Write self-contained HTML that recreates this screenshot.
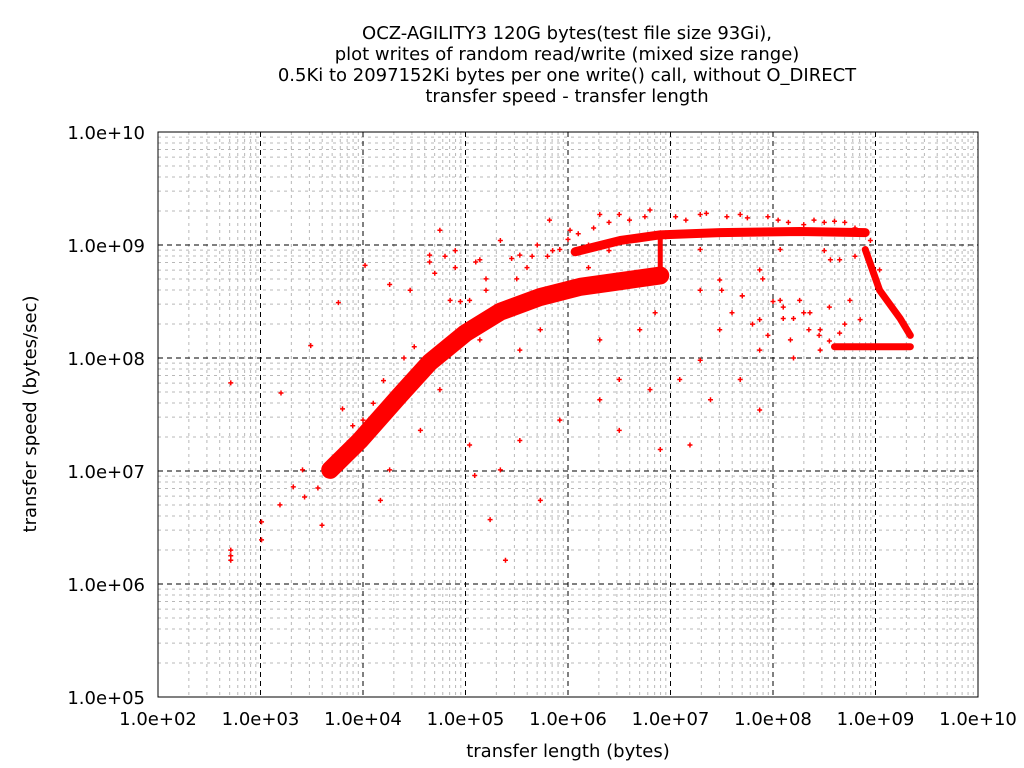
<!DOCTYPE html>
<html><head><meta charset="utf-8"><style>
body{margin:0;background:#fff;}
svg{display:block;font-family:"DejaVu Sans","Liberation Sans",sans-serif;}
</style></head><body>
<svg id="chart" width="1024" height="768" viewBox="0 0 1024 768">
<rect width="1024" height="768" fill="#fff"/>
<g font-size="18" text-anchor="middle" fill="#000">
<text x="567" y="39">OCZ-AGILITY3 120G bytes(test file size 93Gi),</text>
<text x="567" y="60">plot writes of random read/write (mixed size range)</text>
<text x="567" y="81">0.5Ki to 2097152Ki bytes per one write() call, without O_DIRECT</text>
<text x="567" y="102">transfer speed - transfer length</text>
</g>
<g id="grid"></g>
<g id="band"></g>
<g id="pts"></g>
<rect x="158" y="132" width="820" height="565" fill="none" stroke="#000" stroke-width="1"/>
<g id="ticks" font-size="18" fill="#000"></g>
<text x="568" y="757" font-size="18" text-anchor="middle">transfer length (bytes)</text>
<text transform="translate(36,414) rotate(-90)" font-size="18" text-anchor="middle">transfer speed (bytes/sec)</text>
</svg>
<script>
const xTickExp=[2,3,4,5,6,7,8,9,10];
const yTickExp=[5,6,7,8,9,10];
const xTickLabels=["1.0e+02","1.0e+03","1.0e+04","1.0e+05","1.0e+06","1.0e+07","1.0e+08","1.0e+09","1.0e+10"];
const yTickLabels=["1.0e+05","1.0e+06","1.0e+07","1.0e+08","1.0e+09","1.0e+10"];
// dense band centerlines (log10 length, log10 speed)
const mainBandLen=[3.68,3.97,4.36,4.65,5.00,5.34,5.73,6.12,6.51,6.90];
const mainBandSpeed=[7.01,7.27,7.67,7.96,8.22,8.41,8.54,8.63,8.68,8.73];
const upperBandLen=[6.07,6.51,6.90,7.48,8.26,8.90];
const upperBandSpeed=[8.94,9.04,9.09,9.11,9.12,9.11];
const lowerBandLen=[8.60,9.34];
const lowerBandSpeed=[8.10,8.10];
const dropBandLen=[8.90,9.04,9.24,9.34];
const dropBandSpeed=[8.96,8.60,8.35,8.20];
const stepBandLen=[6.90,6.90];
const stepBandSpeed=[8.73,9.09];
// scattered points (log10 length, log10 speed)
const ptLen=[2.71,2.71,2.71,3.01,3.01,3.19,3.32,3.41,3.43,3.56,3.60,3.76,3.20,2.71,3.49,4.02,4.26,4.65,4.75,5.04,5.14,5.34,5.53,5.82,6.02,6.31,6.50,6.80,7.29,7.68,7.87,8.07,7.87,8.17,8.46,8.65,7.48,7.29,7.09,6.80,6.50,6.31,5.92,5.53,5.34,5.24,5.73,5.39,5.09,5.04,4.75,4.56,4.26,4.17,6.31,6.70,7.29,7.48,7.87,8.26,8.75,8.95,9.04,7.87,7.68,6.50,6.90,7.19,7.39,8.46,8.85,8.07,8.56,7.29,5.92,5.73,5.14,5.53,4.85,4.46,8.36,8.70,8.20,7.95,8.55,7.70,6.85,6.20,5.65,4.90,
 4.65,4.70,4.80,4.90,5.10,5.20,5.45,5.60,5.70,5.85,6.00,6.10,6.25,6.40,6.60,6.75,7.05,7.15,7.35,7.55,7.75,7.95,8.05,8.15,8.30,8.40,8.50,8.60,8.70,8.80,7.60,7.80,8.00,8.10,8.20,8.35,8.45,8.55,8.65,7.50,7.70,7.90,8.10,8.30,8.50,8.80,6.20,6.40,6.60,5.80,5.50,5.20,4.95,4.40,4.50,3.90,3.80,4.00,4.10,4.20];
const ptSpeed=[6.30,6.21,6.25,6.55,6.39,6.70,6.86,7.01,6.77,6.85,6.52,8.49,7.69,7.78,8.11,8.82,8.65,8.91,9.13,8.51,8.87,9.04,8.91,9.22,9.13,9.27,9.27,9.31,9.27,9.27,8.78,8.51,8.34,8.16,8.25,8.87,8.25,7.98,7.81,7.72,7.81,7.63,7.45,7.27,7.01,6.57,6.74,6.21,6.96,7.23,7.72,7.36,7.01,6.74,8.16,8.25,8.60,8.69,8.07,8.51,8.51,9.04,8.78,7.54,7.81,7.36,7.19,7.23,7.63,8.07,8.34,8.96,8.87,8.96,8.96,8.25,8.16,8.07,8.51,8.60,8.40,8.30,8.00,8.20,8.45,8.55,8.40,8.80,8.90,8.95,
 8.85,8.75,8.90,8.80,8.85,8.70,8.88,8.80,9.00,8.95,9.05,9.10,9.15,9.20,9.22,9.25,9.25,9.22,9.28,9.25,9.24,9.25,9.22,9.20,9.18,9.22,9.20,9.21,9.20,9.15,8.40,8.30,8.50,8.45,8.35,8.25,8.20,8.15,8.22,8.60,8.55,8.70,8.35,8.40,8.95,8.90,9.00,8.95,9.05,8.90,8.70,8.60,8.50,8.00,8.10,7.40,7.55,7.45,7.60,7.80];

const X0=158,X1=978,Y0=697,Y1=132;
const sx=e=>X0+(e-2)*(X1-X0)/8;
const sy=e=>Y0-(e-5)*(Y0-Y1)/5;
const NS="http://www.w3.org/2000/svg";
const grid=document.getElementById('grid');
function line(x1,y1,x2,y2,col,dash,name){
  const l=document.createElementNS(NS,'line');
  l.setAttribute('x1',x1);l.setAttribute('y1',y1);l.setAttribute('x2',x2);l.setAttribute('y2',y2);
  l.setAttribute('stroke',col);l.setAttribute('stroke-width',1);l.setAttribute('stroke-dasharray',dash);
  
  
  grid.appendChild(l);
}
for(let d=2;d<10;d++)for(let k=2;k<10;k++){const x=sx(d+Math.log10(k));line(x,Y1,x,Y0,'#b8b8b8','3,4','minor-grid-x');}
for(let d=5;d<10;d++)for(let k=2;k<10;k++){const y=sy(d+Math.log10(k));line(X0,y,X1,y,'#b8b8b8','3,4','minor-grid-y');}
xTickExp.forEach(e=>{const x=sx(e);if(e>2&&e<10)line(x,Y1,x,Y0,'#000','5,4','major-grid-x');});
yTickExp.forEach(e=>{const y=sy(e);if(e>5&&e<10)line(X0,y,X1,y,'#000','5,4','major-grid-y');});
const ticks=document.getElementById('ticks');
xTickExp.forEach((e,i)=>{
  const t=document.createElementNS(NS,'text');
  t.setAttribute('x',sx(e));t.setAttribute('y',725);t.setAttribute('text-anchor','middle');
  t.textContent=xTickLabels[i];
  
  
  ticks.appendChild(t);
});
yTickExp.forEach((e,i)=>{
  const t=document.createElementNS(NS,'text');
  t.setAttribute('x',145);t.setAttribute('y',sy(e)+7);t.setAttribute('text-anchor','end');
  t.textContent=yTickLabels[i];
  
  
  ticks.appendChild(t);
});
const band=document.getElementById('band');
function drawBand(lx,ly,w,name){
  const p=document.createElementNS(NS,'polyline');
  p.setAttribute('points',lx.map((v,i)=>sx(v)+','+sy(ly[i])).join(' '));
  p.setAttribute('fill','none');p.setAttribute('stroke','#ff0000');p.setAttribute('stroke-width',w);
  p.setAttribute('stroke-linecap','round');p.setAttribute('stroke-linejoin','round');
  
  
  band.appendChild(p);
}
drawBand(mainBandLen,mainBandSpeed,18,'main-band');
drawBand(upperBandLen,upperBandSpeed,9,'upper-band');
drawBand(lowerBandLen,lowerBandSpeed,7,'lower-band');
drawBand(dropBandLen,dropBandSpeed,7,'drop-band');
drawBand(stepBandLen,stepBandSpeed,5,'step-band');
const pts=document.getElementById('pts');
ptLen.forEach((v,i)=>{
  const x=sx(v),y=sy(ptSpeed[i]);
  const p=document.createElementNS(NS,'path');
  p.setAttribute('d',`M${x-2.5},${y}h5M${x},${y-2.5}v5`);
  p.setAttribute('stroke','#ff0000');p.setAttribute('stroke-width',1.5);
  
  
  pts.appendChild(p);
});
</script>
</body></html>
